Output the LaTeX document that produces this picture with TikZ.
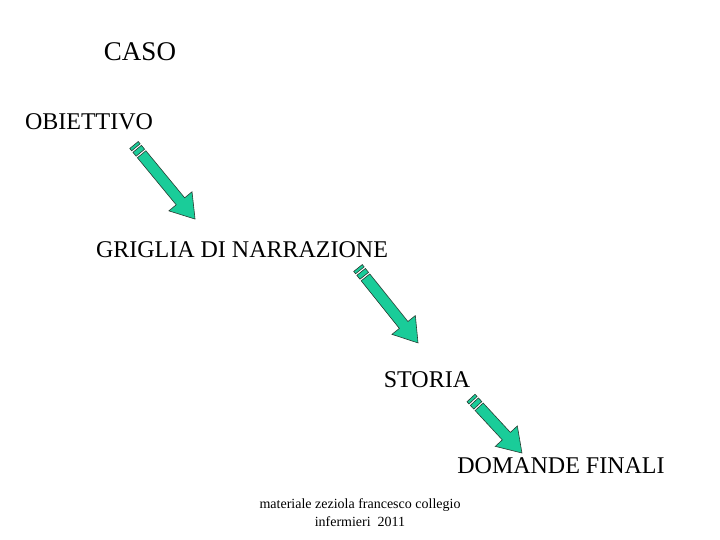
\documentclass[tikz,border=0pt]{standalone}
\usepackage{fontspec}
\setmainfont{Liberation Serif}
\definecolor{arrowfill}{RGB}{26,204,153}
\definecolor{arrowline}{RGB}{40,60,50}
\tikzset{
  lbl/.style={inner sep=0pt, anchor=center, font=\fontsize{24}{28}\selectfont},
  arrowpart/.style={fill=arrowfill, draw=arrowline, line width=0.6pt, line join=miter}
}
% #1 tail point, #2 rotation, #3 length
\newcommand\stripedarrow[3]{%
  \begin{scope}[shift={#1}, rotate=#2]
    \path[arrowpart] (0,-5.5) rectangle (3,5.5);
    \path[arrowpart] (5,-5.5) rectangle (10,5.5);
    \path[arrowpart] (12,-5.5) -- ({#3-23},-5.5) -- ({#3-23},-15) -- (#3,0)
      -- ({#3-23},15) -- ({#3-23},5.5) -- (12,5.5) -- cycle;
  \end{scope}}
\begin{document}
\begin{tikzpicture}[x=1pt, y=-1pt]
  \useasboundingbox (0,0) rectangle (720,540);
  \node[lbl, font=\fontsize{27}{30}\selectfont] (caso) at (140,52) {CASO};
  \node[lbl] (obiettivo) at (89,122) {OBIETTIVO};
  \node[lbl] (griglia) at (242,250) {GRIGLIA DI NARRAZIONE};
  \node[lbl] (storia) at (427,380) {STORIA};
  \node[lbl] (domande) at (561,466) {DOMANDE FINALI};
  \node[inner sep=0pt, align=center, font=\fontsize{14}{18}\selectfont] (footer) at (360,513)
    {materiale zeziola francesco collegio\\infermieri\ \ 2011};
  \coordinate (a1) at (134,145);
  \coordinate (a2) at (358,268);
  \coordinate (a3) at (471,398);
  \stripedarrow{(a1)}{-50.5}{96}
  \stripedarrow{(a2)}{-51.3}{96}
  \stripedarrow{(a3)}{-47.2}{75}
\end{tikzpicture}
\end{document}
